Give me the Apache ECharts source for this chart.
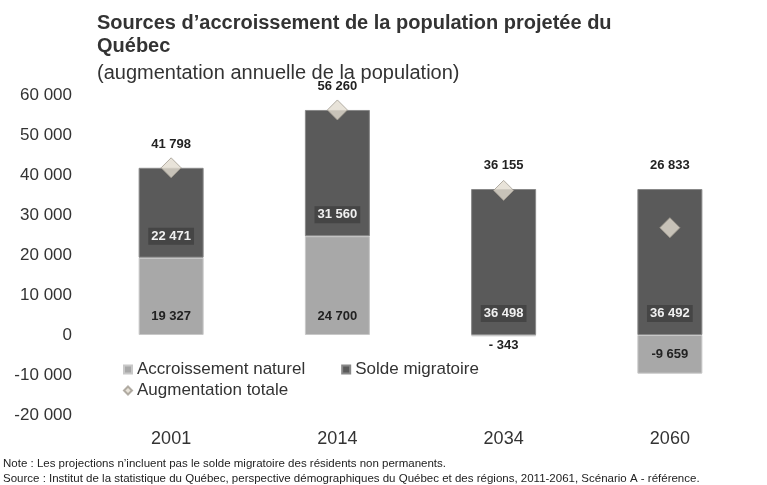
<!DOCTYPE html>
<html><head><meta charset="utf-8">
<script src="https://cdn.jsdelivr.net/npm/echarts@6/dist/echarts.min.js"></script>
<style>html,body{margin:0;padding:0;background:#fff}#c{width:767px;height:485px}</style>
</head><body><div id="c"></div>
<script>
const categories = ['2001', '2014', '2034', '2060'];
const natural = [19327, 24700, -343, -9659];
const migration = [22471, 31560, 36498, 36492];
const total = [41798, 56260, 36155, 26833];
const yTicks = [-20000, -10000, 0, 10000, 20000, 30000, 40000, 50000, 60000];

function fmt(v) {
  const s = String(Math.abs(v)).replace(/\B(?=(\d{3})+(?!\d))/g, ' ');
  return (v < 0 ? '-' : '') + s;
}

const FONT = '"Liberation Sans", Arial, sans-serif';
const chart = echarts.init(document.getElementById('c'));

const naturalData = natural.map((v, i) => {
  const item = { value: v };
  if (i === 2) item.label = { position: 'bottom', distance: 3, formatter: '- ' + Math.abs(v) };
  if (i === 3) item.label = { position: 'inside' };
  return item;
});

chart.setOption({
  animation: false,
  textStyle: { fontFamily: FONT },
  title: [{
    text: 'Sources d\u2019accroissement de la population projetée du\nQuébec',
    left: 92, top: 7, padding: [5, 5],
    textStyle: { fontSize: 20, fontWeight: 'bold', color: '#333', lineHeight: 23, fontFamily: FONT }
  }, {
    text: '(augmentation annuelle de la population)',
    left: 92, top: 58,
    textStyle: { fontSize: 20, fontWeight: 'normal', color: '#333', fontFamily: FONT }
  }, {
    text: 'Note : Les projections n\u2019incluent pas le solde migratoire des résidents non permanents.\nSource : Institut de la statistique du Québec, perspective démographiques du Québec et des régions, 2011-2061, Scénario A - référence.',
    left: -2, top: 451,
    textStyle: { fontSize: 11.5, fontWeight: 'normal', color: '#222', lineHeight: 15, fontFamily: FONT }
  }],
  legend: [{
    data: ['Accroissement naturel', 'Solde migratoire'],
    left: 118, top: 356, orient: 'horizontal', itemGap: 36,
    itemWidth: 8, itemHeight: 8, icon: 'rect',
    textStyle: { fontSize: 17, color: '#333', fontFamily: FONT }
  }, {
    data: [{ name: 'Augmentation totale', icon: 'diamond' }],
    left: 118, top: 377,
    itemWidth: 8, itemHeight: 8,
    textStyle: { fontSize: 17, color: '#333', fontFamily: FONT }
  }],
  grid: { left: 88, right: 14, top: 95, bottom: 70 },
  xAxis: {
    type: 'category', data: categories,
    axisLine: { show: false }, axisTick: { show: false },
    axisLabel: { fontSize: 18, color: '#333', margin: 15, fontFamily: FONT }
  },
  yAxis: {
    type: 'value', min: -20000, max: 60000, interval: 10000,
    splitLine: { show: false }, axisLine: { show: false }, axisTick: { show: false },
    axisLabel: {
      fontSize: 17, color: '#333', margin: 16, fontFamily: FONT,
      formatter: v => yTicks.includes(v) ? fmt(v) : ''
    }
  },
  series: [{
    name: 'Accroissement naturel', type: 'bar', stack: 's', barWidth: 65,
    data: naturalData,
    itemStyle: { color: '#a8a8a8', borderColor: '#c8c8c8', borderWidth: 1 },
    label: {
      show: true, position: 'insideBottom', distance: 12,
      fontSize: 13, fontWeight: 'bold', color: '#222', formatter: p => fmt(p.value)
    }
  }, {
    name: 'Solde migratoire', type: 'bar', stack: 's', barWidth: 65,
    data: migration,
    itemStyle: { color: '#5a5a5a', borderColor: '#888', borderWidth: 1 },
    label: {
      show: true, position: 'insideBottom', distance: 13,
      fontSize: 13, fontWeight: 'bold', color: '#f0f0f0',
      backgroundColor: '#454545', padding: [2, 3],
      formatter: p => fmt(p.value)
    }
  }, {
    name: 'Solde migratoire', type: 'bar', stack: 's', barWidth: 65,
    data: migration.map(() => 0), silent: true,
    itemStyle: { color: 'transparent' },
    label: {
      show: true, position: 'top', distance: 17,
      fontSize: 13, fontWeight: 'bold', color: '#222',
      formatter: p => fmt(total[p.dataIndex])
    },
    tooltip: { show: false }
  }, {
    name: 'Augmentation totale', type: 'scatter',
    data: total, symbol: 'diamond', symbolSize: 20,
    itemStyle: { color: '#e2dccf', borderColor: '#a09a90', borderWidth: 1 },
    z: 5
  }]
});
</script>
</body></html>
